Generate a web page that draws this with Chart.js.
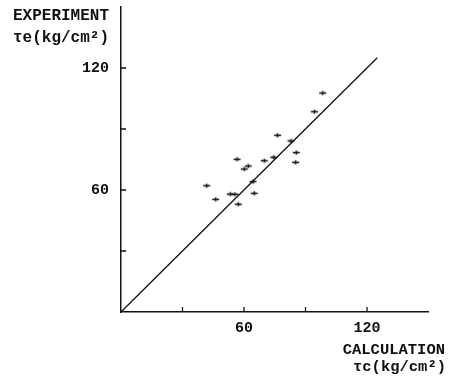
<!DOCTYPE html>
<html>
<head>
<meta charset="utf-8">
<script src="https://cdn.jsdelivr.net/npm/chart.js@4.4.1/dist/chart.umd.min.js"></script>
<style>
html,body{margin:0;padding:0;background:#fff;}
#wrap{position:relative;width:449px;height:381px;}
</style>
</head>
<body>
<div id="wrap"><canvas id="c" width="449" height="381"></canvas></div>
<script>
// Data
const calcValues = [41.8, 46.2, 53.3, 55.6, 56.6, 57.2, 60.1, 62.1, 64.4, 65.0, 69.9, 74.5, 76.4, 82.9, 85.5, 85.2, 94.3, 98.4];
const expValues  = [62.1, 55.4, 58.0, 57.9, 75.1, 53.0, 70.3, 71.8, 64.1, 58.4, 74.4, 76.1, 86.9, 84.1, 78.4, 73.6, 98.5, 107.7];
const lineX = [0, 125];
const lineY = [0, 125];
const tickValues = [30, 60, 90, 120];
const labeledTicks = [60, 120];
const yTitle = ["EXPERIMENT", "τe(kg/cm²)"];
const xTitle = ["CALCULATION", "τc(kg/cm²)"];

const FONT = "'Liberation Mono', 'DejaVu Sans Mono', monospace";

// plus-shaped marker (wider than tall)
const mk = document.createElement('canvas');
mk.width = 9; mk.height = 7;
(function(){
  const g = mk.getContext('2d');
  g.strokeStyle = '#111';
  g.lineWidth = 1.6;
  g.beginPath();
  g.moveTo(1, 3.5); g.lineTo(8, 3.5);
  g.moveTo(4.5, 1.5); g.lineTo(4.5, 5.5);
  g.stroke();
})();

const pts = calcValues.map((x, i) => ({x: x, y: expValues[i]}));
const linePts = lineX.map((x, i) => ({x: x, y: lineY[i]}));

const extras = {
  id: 'extras',
  afterDraw(chart) {
    const ctx = chart.ctx;
    const xs = chart.scales.x, ys = chart.scales.y;
    ctx.save();
    ctx.strokeStyle = '#111';
    ctx.lineWidth = 1.3;
    ctx.beginPath();
    tickValues.forEach(v => {
      const py = ys.getPixelForValue(v);
      ctx.moveTo(xs.left, py); ctx.lineTo(xs.left + 5, py);
      const px = xs.getPixelForValue(v);
      ctx.moveTo(px, ys.bottom); ctx.lineTo(px, ys.bottom - 5);
    });
    ctx.stroke();
    ctx.fillStyle = '#111';
    ctx.font = "bold 16px " + FONT;
    ctx.textAlign = 'right';
    ctx.textBaseline = 'middle';
    ctx.fillText(yTitle[0], 109, 16);
    ctx.fillText(yTitle[1], 109, 38);
    ctx.font = "bold 15.5px " + FONT;
    ctx.fillText(xTitle[0], 445, 350);
    ctx.fillText(xTitle[1], 446, 367);
    ctx.restore();
  }
};

new Chart(document.getElementById('c'), {
  type: 'scatter',
  data: {
    datasets: [
      {
        type: 'line',
        data: linePts,
        borderColor: '#111',
        borderWidth: 1.3,
        pointRadius: 0,
        fill: false
      },
      {
        data: pts,
        pointStyle: mk,
        pointRadius: 4,
        backgroundColor: '#111',
        borderColor: '#111'
      }
    ]
  },
  options: {
    responsive: false,
    animation: false,
    layout: {padding: {left: 0, right: 20.5, top: 7, bottom: 0}},
    plugins: {legend: {display: false}, tooltip: {enabled: false}},
    scales: {
      x: {
        type: 'linear',
        min: 0, max: 150,
        afterFit(s) { s.height = 69; s.paddingLeft = 0; s.paddingRight = 0; },
        grid: {display: true, drawOnChartArea: false, drawTicks: false},
        border: {display: true, color: '#111', width: 1.5},
        ticks: {
          stepSize: 30,
          padding: 7,
          color: '#111',
          font: {family: FONT, size: 15, weight: 'bold'},
          maxRotation: 0,
          callback: v => labeledTicks.includes(v) ? String(v) : ''
        }
      },
      y: {
        type: 'linear',
        min: 0, max: 150,
        afterFit(s) { s.width = 121; s.paddingTop = 0; s.paddingBottom = 0; },
        grid: {display: true, drawOnChartArea: false, drawTicks: false},
        border: {display: true, color: '#111', width: 1.5},
        ticks: {
          stepSize: 30,
          padding: 12,
          color: '#111',
          font: {family: FONT, size: 15, weight: 'bold'},
          callback: v => labeledTicks.includes(v) ? String(v) : ''
        }
      }
    }
  },
  plugins: [extras]
});
</script>
</body>
</html>
